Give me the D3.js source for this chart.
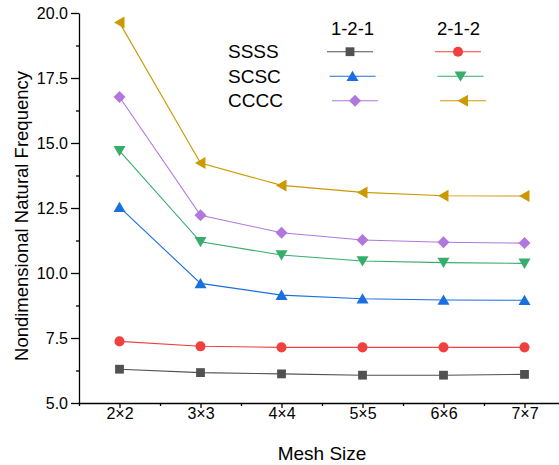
<!DOCTYPE html>
<html lang="en">
<head>
    <meta charset="UTF-8">
    <title>Nondimensional Natural Frequency vs Mesh Size</title>
    <style>
        body { margin: 0; background: #fff; }
        svg { font-family: "Liberation Sans", Arial, sans-serif; display: block; }
    </style>
</head>
<body>
<svg id="chart"></svg>
<script src="https://d3js.org/d3.v7.min.js"></script>
<script>
    // Data
    const meshSizes = ["2×2", "3×3", "4×4", "5×5", "6×6", "7×7"];
    const meshN = [2, 3, 4, 5, 6, 7];
    const yTicks = [5.0, 7.5, 10.0, 12.5, 15.0, 17.5, 20.0];

    const ssss121 = [6.30, 6.17, 6.12, 6.07, 6.07, 6.10];
    const ssss212 = [7.37, 7.18, 7.14, 7.14, 7.14, 7.14];
    const scsc121 = [12.53, 9.60, 9.15, 9.01, 8.96, 8.95];
    const scsc212 = [14.70, 11.20, 10.69, 10.46, 10.40, 10.37];
    const cccc121 = [16.77, 12.22, 11.55, 11.27, 11.18, 11.15];
    const cccc212 = [19.63, 14.23, 13.37, 13.10, 12.97, 12.96];

    const series = [
        { values: ssss121, color: "#515151", symbol: "square", row: 0, col: 0 },
        { values: ssss212, color: "#F14040", symbol: "circle", row: 0, col: 1 },
        { values: scsc121, color: "#1A6FDF", symbol: "triUp", row: 1, col: 0 },
        { values: scsc212, color: "#37AD6B", symbol: "triDown", row: 1, col: 1 },
        { values: cccc121, color: "#B177DE", symbol: "diamond", row: 2, col: 0 },
        { values: cccc212, color: "#CC9900", symbol: "triLeft", row: 2, col: 1 }
    ];
    const rowLabels = ["SSSS", "SCSC", "CCCC"];
    const colLabels = ["1-2-1", "2-1-2"];

    const width = 559, height = 465;
    const svg = d3.select("#chart").attr("width", width).attr("height", height);

    const x = d3.scaleLinear().domain([1.5, 7.5]).range([79, 565]);
    const y = d3.scaleLinear().domain([5, 20]).range([403, 13]);

    // custom marker paths
    function marker(sym) {
        switch (sym) {
            case "square": return "M-4.4,-4.4H4.4V4.4H-4.4Z";
            case "circle": return d3.symbol(d3.symbolCircle, 80)();
            case "triUp": return "M0,-5.5L6,4.8L-6,4.8Z";
            case "triDown": return "M0,5.5L6,-4.8L-6,-4.8Z";
            case "diamond": return "M0,-6L6,0L0,6L-6,0Z";
            case "triLeft": return "M-5.5,0L5,-6L5,6Z";
        }
    }

    // axes
    const yAxis = d3.axisLeft(y).tickValues(yTicks).tickFormat(d3.format(".1f")).tickSize(8).tickSizeOuter(0);
    const gy = svg.append("g").attr("transform", "translate(79,0)").call(yAxis);
    svg.append("g").attr("transform", "translate(79,0)")
        .call(d3.axisLeft(y).tickValues(d3.range(6.25, 20, 2.5)).tickFormat("").tickSize(3).tickSizeOuter(0))
        .select(".domain").remove();

    const xAxis = d3.axisBottom(x).tickValues(meshN).tickFormat((d, i) => meshSizes[i]).tickSize(5).tickSizeOuter(0);
    const gx = svg.append("g").attr("transform", "translate(0,403)").call(xAxis);
    svg.append("g").attr("transform", "translate(0,403)")
        .call(d3.axisBottom(x).tickValues(d3.range(1.5, 7.6, 1)).tickFormat("").tickSize(3).tickSizeOuter(0))
        .select(".domain").remove();

    svg.selectAll(".domain, .tick line").attr("stroke", "#000").attr("stroke-width", 1.3);
    gy.selectAll(".tick text").attr("font-size", 16).attr("fill", "#000").attr("x", -11);
    gx.selectAll(".tick text").attr("font-size", 16).attr("fill", "#000").attr("y", 5);

    svg.append("text")
        .attr("transform", "translate(28,216) rotate(-90)")
        .attr("text-anchor", "middle")
        .attr("font-size", 18.5)
        .text("Nondimensional Natural Frequency");
    svg.append("text")
        .attr("x", 322).attr("y", 460)
        .attr("text-anchor", "middle")
        .attr("font-size", 19)
        .text("Mesh Size");

    // lines and markers
    const line = d3.line().x((d, i) => x(meshN[i])).y(d => y(d));
    series.forEach(s => {
        svg.append("path")
            .attr("d", line(s.values))
            .attr("fill", "none")
            .attr("stroke", s.color)
            .attr("stroke-width", 1.1);
        svg.selectAll(null)
            .data(s.values)
            .enter()
            .append("path")
            .attr("d", marker(s.symbol))
            .attr("transform", (d, i) => `translate(${x(meshN[i])},${y(d)})`)
            .attr("fill", s.color);
    });

    // legend
    const legend = svg.append("g");
    colLabels.forEach((t, j) => {
        legend.append("text")
            .attr("x", 352.5 + j * 106).attr("y", 35)
            .attr("text-anchor", "middle")
            .attr("font-size", 18.5)
            .text(t);
    });
    rowLabels.forEach((t, i) => {
        legend.append("text")
            .attr("x", 228).attr("y", 58.3 + i * 24.5)
            .attr("font-size", 19)
            .text(t);
    });
    series.forEach(s => {
        const cx = 350 + s.col * 108 + s.row * 2.5;
        const cy = 51.7 + s.row * 24.5;
        legend.append("line")
            .attr("x1", cx - 23).attr("x2", cx + 23)
            .attr("y1", cy).attr("y2", cy)
            .attr("stroke", s.color).attr("stroke-width", 1.1);
        legend.append("path")
            .attr("d", marker(s.symbol))
            .attr("transform", `translate(${cx},${cy})`)
            .attr("fill", s.color);
    });
</script>
</body>
</html>
